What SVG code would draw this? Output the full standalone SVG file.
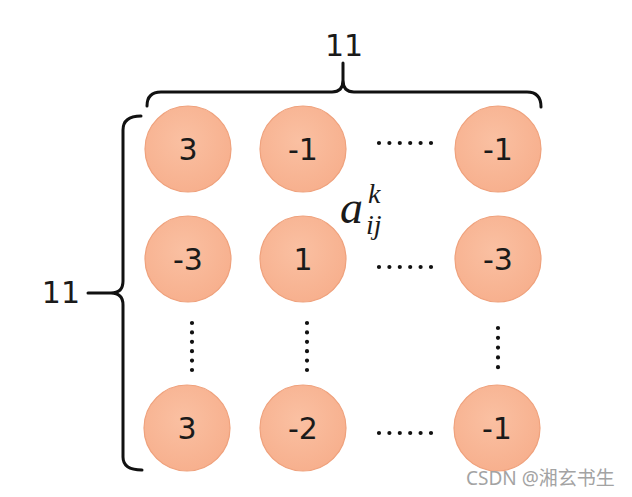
<svg xmlns="http://www.w3.org/2000/svg" width="632" height="497" viewBox="0 0 632 497">
<defs>
<radialGradient id="g" cx="0.45" cy="0.4" r="0.6">
<stop offset="0" stop-color="#FAC0A2"/>
<stop offset="1" stop-color="#F7B08E"/>
</radialGradient>
<style>
.n circle{fill:url(#g);stroke:#EFA17C;stroke-width:1.2}
.n text{font-family:"DejaVu Sans",sans-serif;font-size:30px;fill:#1a1a1a;text-anchor:middle}
.lbl{font-family:"DejaVu Sans",sans-serif;font-size:30px;fill:#1a1a1a}
.br{fill:none;stroke:#111;stroke-width:3;stroke-linejoin:round;stroke-linecap:round}
.dots{stroke:#111;stroke-width:4.2;stroke-linecap:round}
.m{font-family:"Liberation Serif",serif;font-style:italic;fill:#1a1a1a}
</style>
</defs>
<rect width="632" height="497" fill="#fff"/>
<g id="connectors">
<path class="br" d="M147,106 Q147,92 161,92 L332,92 Q343,92 343,80 L343,63 L343,80 Q343,92 354,92 L527,92 Q541,92 541,107"/>
<path class="br" d="M141,116 Q123,116 123,130 L123,281 Q123,293 111,293 Q123,293 123,305 L123,457 Q123,470 142,470 M88,293 L111,293"/>
<g class="dots">
<line x1="379" y1="143" x2="431" y2="143" stroke-dasharray="0 10.4"/>
<line x1="379" y1="267" x2="431" y2="267" stroke-dasharray="0 10.4"/>
<line x1="379" y1="433" x2="431" y2="433" stroke-dasharray="0 10.4"/>
<line x1="192" y1="323" x2="192" y2="370" stroke-dasharray="0 9.4"/>
<line x1="307" y1="323" x2="307" y2="370" stroke-dasharray="0 9.4"/>
<line x1="498" y1="328" x2="498" y2="377" stroke-dasharray="0 9.8"/>
</g>
</g>
<text class="lbl" x="344" y="56" text-anchor="middle">11</text>
<text class="lbl" x="80" y="303" text-anchor="end">11</text>
<g id="n11" class="n"><circle cx="188" cy="149" r="43"/><text x="188" y="160">3</text></g>
<g id="n12" class="n"><circle cx="303" cy="149" r="43"/><text x="303" y="160">-1</text></g>
<g id="n1k" class="n"><circle cx="498" cy="149" r="43"/><text x="498" y="160">-1</text></g>
<g id="n21" class="n"><circle cx="188" cy="259" r="43"/><text x="188" y="270">-3</text></g>
<g id="n22" class="n"><circle cx="303" cy="259" r="43"/><text x="303" y="270">1</text></g>
<g id="n2k" class="n"><circle cx="498" cy="259" r="43"/><text x="498" y="270">-3</text></g>
<g id="nk1" class="n"><circle cx="187" cy="428" r="43"/><text x="187" y="439">3</text></g>
<g id="nk2" class="n"><circle cx="303" cy="428" r="43"/><text x="303" y="439">-2</text></g>
<g id="nkk" class="n"><circle cx="497" cy="428" r="43"/><text x="497" y="439">-1</text></g>
<g id="label-a">
<text class="m" x="340" y="223" font-size="46">a</text>
<text class="m" x="368" y="203" font-size="28">k</text>
<text class="m" x="366" y="234" font-size="28">ij</text>
</g>
<text x="466" y="485" font-family="'Noto Sans','Noto Sans CJK SC',sans-serif" font-size="19" fill="#a3a3a3">CSDN @湘玄书生</text>
</svg>
